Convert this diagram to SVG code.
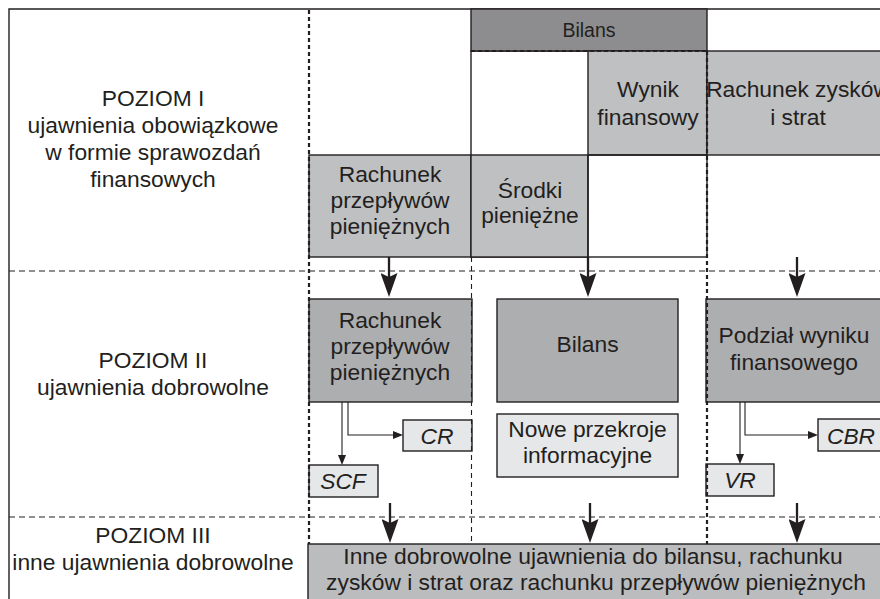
<svg xmlns="http://www.w3.org/2000/svg" width="880" height="599" viewBox="0 0 880 599">
  <defs>
    <style>
      text { font-family: "Liberation Sans", Arial, sans-serif; font-size: 22.8px; fill: #231f20; text-anchor: middle; }
      .it { font-style: italic; }
      .hdr { font-size: 19.5px; }
      .frame { fill: none; stroke: #231f20; stroke-width: 1.4; }
      .box { stroke: #231f20; stroke-width: 1.4; }
      .lv1 { fill: #bfc0c2; }
      .lv2 { fill: #adaeb0; }
      .lv3 { fill: #bbbcbe; }
      .head { fill: #8d8d8f; }
      .small { fill: #e6e7e8; }
      .sep { fill: none; stroke: #231f20; stroke-width: 1.1; stroke-dasharray: 6 4; }
      .dots { fill: none; stroke: #231f20; stroke-width: 2.2; stroke-dasharray: 4 3; }
      .thin { fill: none; stroke: #231f20; stroke-width: 1.1; stroke-dasharray: 5 4; }
      .big { fill: none; stroke: #231f20; stroke-width: 2.3; marker-end: url(#bigHead); }
      .sm { fill: none; stroke: #231f20; stroke-width: 1.1; marker-end: url(#smallHead); }
    </style>
    <marker id="bigHead" markerUnits="userSpaceOnUse" viewBox="0 0 24 17" refX="14" refY="8.5" markerWidth="24" markerHeight="17" orient="auto">
      <path d="M0,0 L24,8.5 L0,17 L4,8.5 Z" fill="#231f20"/>
    </marker>
    <marker id="smallHead" markerUnits="userSpaceOnUse" viewBox="0 0 10 8" refX="5" refY="4" markerWidth="10" markerHeight="8" orient="auto">
      <path d="M0,0 L10,4 L0,8 Z" fill="#231f20"/>
    </marker>
  </defs>

  <!-- outer frame (open to the right and bottom) -->
  <path class="frame" d="M9,599 V9 H880"/>

  <!-- level separators -->
  <line class="sep" x1="9" y1="271" x2="880" y2="271"/>
  <line class="sep" x1="9" y1="517" x2="880" y2="517"/>

  <!-- level labels -->
  <g id="level1-label">
    <text x="153" y="106">POZIOM I</text>
    <text x="153" y="133">ujawnienia obowiązkowe</text>
    <text x="153" y="160">w formie sprawozdań</text>
    <text x="153" y="187">finansowych</text>
  </g>
  <g id="level2-label">
    <text x="153" y="368">POZIOM II</text>
    <text x="153" y="395">ujawnienia dobrowolne</text>
  </g>
  <g id="level3-label">
    <text x="153" y="543">POZIOM III</text>
    <text x="153" y="570">inne ujawnienia dobrowolne</text>
  </g>

  <!-- level I: financial statements -->
  <g id="bilans-frame">
    <rect class="box" x="471" y="51" width="236" height="206" fill="#ffffff"/>
    <rect class="head box" x="471" y="9" width="236" height="42"/>
    <text class="hdr" x="589" y="37">Bilans</text>
  </g>
  <g id="wynik-finansowy">
    <rect class="lv1 box" x="588" y="51" width="119" height="104"/>
    <text x="648" y="97">Wynik</text>
    <text x="648" y="125">finansowy</text>
  </g>
  <g id="rachunek-zyskow">
    <rect class="lv1 box" x="707" y="51" width="180" height="104"/>
    <text x="798" y="97">Rachunek zysków</text>
    <text x="798" y="125">i strat</text>
  </g>
  <g id="rachunek-przeplywow-1">
    <rect class="lv1 box" x="309" y="155" width="162" height="102"/>
    <text x="390" y="182">Rachunek</text>
    <text x="390" y="208">przepływów</text>
    <text x="390" y="234">pieniężnych</text>
  </g>
  <g id="srodki-pieniezne">
    <rect class="lv1 box" x="471" y="155" width="117" height="102"/>
    <text x="530" y="198">Środki</text>
    <text x="530" y="223">pieniężne</text>
  </g>
  <line x1="588" y1="155" x2="588" y2="257" stroke="#231f20" stroke-width="1.4"/>
  <line x1="588" y1="155" x2="707" y2="155" stroke="#231f20" stroke-width="1.4"/>

  <!-- level II: voluntary disclosures -->
  <g id="rachunek-przeplywow-2">
    <rect class="lv2 box" x="309" y="299" width="163" height="103"/>
    <text x="390" y="328">Rachunek</text>
    <text x="390" y="354">przepływów</text>
    <text x="390" y="380">pieniężnych</text>
  </g>
  <g id="bilans-2">
    <rect class="lv2 box" x="497" y="299" width="181" height="103"/>
    <text x="587.5" y="352">Bilans</text>
  </g>
  <g id="podzial-wyniku">
    <rect class="lv2 box" x="706" y="299" width="180" height="103"/>
    <text x="794" y="343">Podział wyniku</text>
    <text x="794" y="370">finansowego</text>
  </g>
  <g id="cr">
    <rect class="small box" x="403" y="420" width="69" height="31"/>
    <text class="it" x="437" y="444">CR</text>
  </g>
  <g id="scf">
    <rect class="small box" x="309" y="465" width="69" height="32"/>
    <text class="it" x="343" y="489">SCF</text>
  </g>
  <g id="nowe-przekroje">
    <rect class="small box" x="497" y="414" width="181" height="63"/>
    <text x="587.5" y="437">Nowe przekroje</text>
    <text x="587.5" y="463">informacyjne</text>
  </g>
  <g id="vr">
    <rect class="small box" x="706" y="464" width="68" height="32"/>
    <text class="it" x="740" y="488">VR</text>
  </g>
  <g id="cbr">
    <rect class="small box" x="818" y="419" width="68" height="32"/>
    <text class="it" x="851" y="444">CBR</text>
  </g>

  <!-- level III: other voluntary disclosures -->
  <g id="inne-ujawnienia">
    <rect class="lv3 box" x="308" y="544" width="580" height="60"/>
    <text x="593" y="564">Inne dobrowolne ujawnienia do bilansu, rachunku</text>
    <text x="596" y="590">zysków i strat oraz rachunku przepływów pieniężnych</text>
  </g>

  <!-- column guides -->
  <g id="guides">
    <line class="dots" x1="309" y1="10" x2="309" y2="544"/>
    <line class="dots" x1="707" y1="51" x2="707" y2="544"/>
    <line class="dots" x1="471" y1="51" x2="707" y2="51"/>
    <line class="thin" x1="471.5" y1="257" x2="471.5" y2="544"/>
  </g>

  <!-- connectors -->
  <g id="connectors">
    <line class="big" x1="389" y1="257" x2="389" y2="287"/>
    <line class="big" x1="588" y1="257" x2="588" y2="287"/>
    <line class="big" x1="797" y1="257" x2="797" y2="287"/>
    <line class="big" x1="390" y1="503" x2="390" y2="533"/>
    <line class="big" x1="590" y1="503" x2="590" y2="533"/>
    <line class="big" x1="797" y1="503" x2="797" y2="533"/>
    <line class="sm" x1="342" y1="402" x2="342" y2="460"/>
    <polyline class="sm" points="348,402 348,435 398,435"/>
    <line class="sm" x1="740" y1="402" x2="740" y2="459"/>
    <polyline class="sm" points="745,402 745,435 813,435"/>
  </g>
</svg>
